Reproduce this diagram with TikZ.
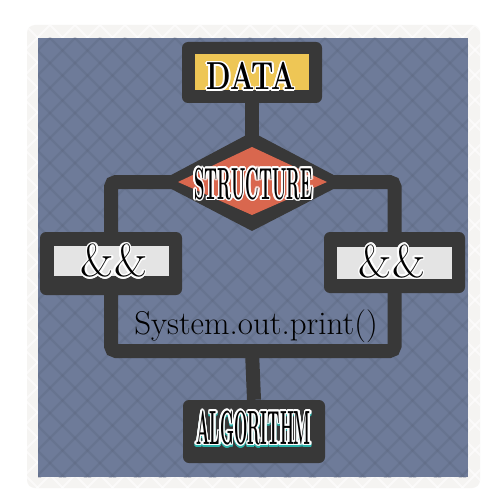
\documentclass[tikz,border=0pt]{standalone}
\usepackage{fontspec}
\usepackage{graphicx}
\usepackage{contour}
\usetikzlibrary{positioning}
\contourlength{1.6pt}

\definecolor{paper}{HTML}{F5F4F2}
\definecolor{slate}{HTML}{6E7B99}
\definecolor{hatch}{HTML}{5A647C}
\definecolor{ink}{HTML}{383838}
\definecolor{mustard}{HTML}{EEC655}
\definecolor{brick}{HTML}{D9674E}
\definecolor{chalk}{HTML}{E4E4E4}
\definecolor{aqua}{HTML}{2BB5AC}

\newcommand{\tallcaps}[4][white]{{\fontsize{#2}{#2}\selectfont\bfseries\contour{#1}{\scalebox{#3}[1]{#4}}}}

\begin{document}
\begin{tikzpicture}[x=1pt,y=-1pt]
    \tikzstyle{frame}=[fill=ink, rounded corners=6pt, inner sep=0pt]
    \tikzstyle{pane}=[inner sep=0pt]
    \tikzstyle{wire}=[draw=ink, line width=14pt, rounded corners=5pt]
    \useasboundingbox (0,0) rectangle (500,500);
    \fill[white] (0,0) rectangle (500,500);
    \fill[paper, rounded corners=8pt] (27,25) rectangle (480,488);
    \begin{scope}
        \clip[rounded corners=8pt] (27,25) rectangle (480,488);
        \foreach \i in {-450,-425,...,950} {
            \draw[white, line width=2pt, opacity=.6] (\i,25) -- ++(470,470);
            \draw[white, line width=2pt, opacity=.6] (\i,25) -- ++(-470,470);
        }
    \end{scope}
    \fill[slate] (38,38) rectangle (468,477);
    \begin{scope}
        \clip (38,38) rectangle (468,477);
        \foreach \i in {-450,-425,...,950} {
            \draw[hatch, line width=2.4pt, opacity=.3] (\i,38) -- ++(445,445);
            \draw[hatch, line width=2.4pt, opacity=.3] (\i,38) -- ++(-445,445);
        }
    \end{scope}

    \node[frame, minimum width=140pt, minimum height=61pt] (data) at (252,72.5) {};
    \node[pane, fill=mustard, minimum width=114pt, minimum height=36pt] (data-in) at (data) {};

    \node[frame, minimum width=142pt, minimum height=63pt] (left) at (111,263.5) {};
    \node[pane, fill=chalk, minimum width=115pt, minimum height=30pt] (left-in) at (111,261) {};

    \node[frame, minimum width=141pt, minimum height=61pt] (right) at (394.5,262.5) {};
    \node[pane, fill=chalk, minimum width=115pt, minimum height=32pt] (right-in) at (394.5,262.5) {};

    \node[frame, minimum width=142pt, minimum height=63pt] (algo) at (254,431.5) {};

    \coordinate (struct) at (252,182);
    \coordinate (join) at (252,351);
    \draw[wire] (data.south) -- (struct);
    \draw[wire] (struct) -| (left.north);
    \draw[wire] (struct) -| (right.north);
    \draw[wire] (left.south) |- (join) -| (right.south);
    \draw[wire] (join) -- (algo.north);

    \fill[ink] (158,182) -- (252,132) -- (347,182) -- (252,231) -- cycle;
    \fill[brick] (178,182) -- (252,147) -- (327,182) -- (252,215) -- cycle;

    \node (data-txt) at (251,77) {\tallcaps{39}{0.73}{DATA}};
    \node (struct-txt) at (253.5,184.5) {\tallcaps{45}{0.37}{STRUCTURE}};
    \node (left-txt) at (114,261.5) {\tallcaps{46}{1}{\mdseries\&\&}};
    \node (right-txt) at (392,262) {\tallcaps{46}{1}{\mdseries\&\&}};
    \node[text=aqua] (algo-shade) at (253.5,430.5) {\tallcaps[aqua]{48}{0.33}{ALGORITHM}};
    \node (algo-txt) at (253.5,428.5) {\tallcaps{48}{0.33}{ALGORITHM}};
    \node[anchor=base] (sysout) at (256,334) {\fontsize{33}{33}\selectfont System.out.print()};
\end{tikzpicture}
\end{document}
